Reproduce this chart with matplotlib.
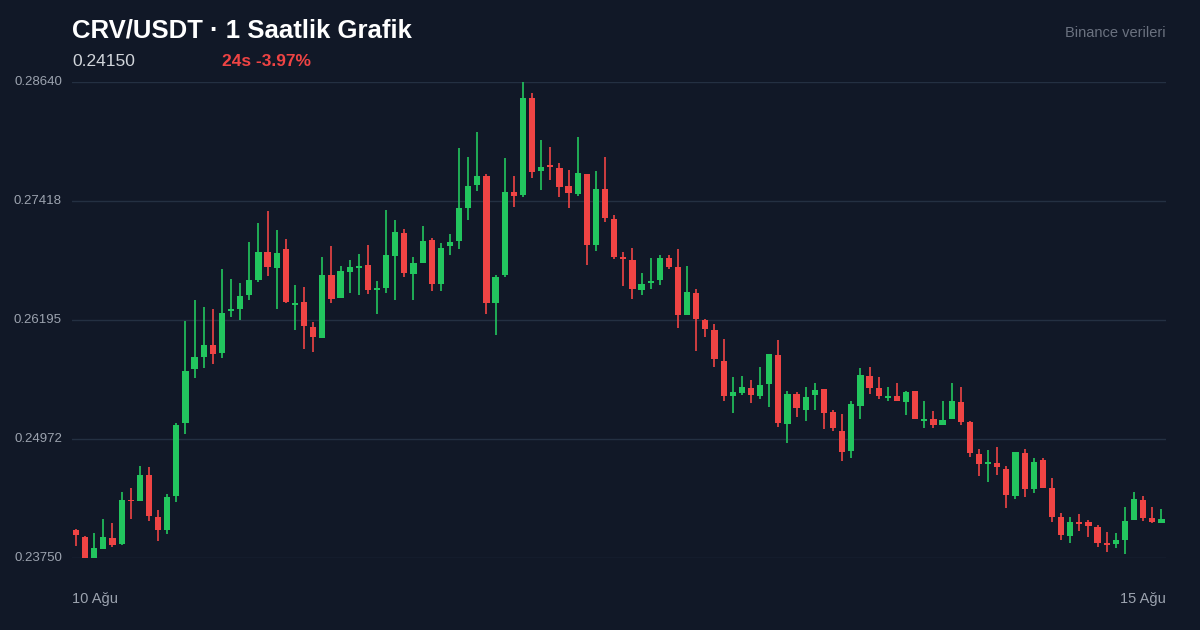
import matplotlib
matplotlib.use("Agg")
import matplotlib.pyplot as plt
import numpy as np

opens = [0.24037,0.23966,0.23751,0.23843,0.23955,0.23894,0.24345,0.24335,0.24602,0.24171,
0.24037,0.24386,0.25137,0.25691,0.25814,0.25938,0.25856,0.26287,0.26307,0.26451,
0.26605,0.26893,0.26729,0.26924,0.26348,0.26379,0.26123,0.26010,0.26657,0.26420,
0.26688,0.26729,0.26760,0.26503,0.26523,0.26852,0.27088,0.26667,0.26780,0.27017,
0.26564,0.26955,0.27006,0.27343,0.27580,0.27672,0.26369,0.26657,0.27508,0.27477,
0.28475,0.27725,0.27787,0.27756,0.27572,0.27490,0.27694,0.26965,0.27541,0.27232,
0.26842,0.26811,0.26503,0.26574,0.26605,0.26832,0.26739,0.26246,0.26472,0.26194,
0.26092,0.25773,0.25414,0.25445,0.25496,0.25414,0.25538,0.25835,0.25127,0.25435,
0.25270,0.25425,0.25486,0.25250,0.25055,0.24849,0.25311,0.25620,0.25496,0.25394,
0.25414,0.25353,0.25466,0.25157,0.25178,0.25116,0.25178,0.25353,0.25147,0.24818,
0.24715,0.24726,0.24664,0.24386,0.24828,0.24458,0.24756,0.24468,0.24171,0.23976,
0.24119,0.24119,0.24068,0.23904,0.23894,0.23935,0.24140,0.24345,0.24160,0.24109]
highs = [0.24047,0.23976,0.24006,0.24150,0.24109,0.24427,0.24468,0.24694,0.24684,0.24242,
0.24407,0.25137,0.26184,0.26400,0.26328,0.26307,0.26718,0.26615,0.26574,0.26996,
0.27191,0.27314,0.27119,0.27027,0.26554,0.26533,0.26174,0.26842,0.26955,0.26749,
0.26811,0.26873,0.26965,0.26595,0.27325,0.27222,0.27130,0.26842,0.27160,0.27037,
0.26986,0.27078,0.27961,0.27869,0.28126,0.27693,0.26657,0.27857,0.27672,0.28640,
0.28527,0.28044,0.27971,0.27807,0.27735,0.28075,0.27694,0.27725,0.27869,0.27273,
0.26893,0.26934,0.26678,0.26832,0.26862,0.26862,0.26924,0.26749,0.26513,0.26205,
0.26153,0.25999,0.25609,0.25620,0.25579,0.25712,0.25845,0.25989,0.25466,0.25455,
0.25507,0.25548,0.25486,0.25270,0.25229,0.25363,0.25702,0.25712,0.25609,0.25507,
0.25548,0.25466,0.25466,0.25363,0.25260,0.25363,0.25548,0.25507,0.25157,0.24869,
0.24859,0.24890,0.24694,0.24839,0.24869,0.24777,0.24777,0.24571,0.24212,0.24171,
0.24201,0.24140,0.24088,0.24017,0.24006,0.24273,0.24427,0.24386,0.24273,0.24253]
lows = [0.23873,0.23751,0.23751,0.23843,0.23863,0.23884,0.24150,0.24335,0.24130,0.23925,
0.23996,0.24325,0.25024,0.25599,0.25702,0.25743,0.25804,0.26225,0.26194,0.26400,
0.26584,0.26646,0.26307,0.26369,0.26092,0.25897,0.25866,0.26010,0.26369,0.26420,
0.26472,0.26451,0.26461,0.26256,0.26472,0.26400,0.26636,0.26400,0.26780,0.26492,
0.26492,0.26862,0.26924,0.27222,0.27518,0.26256,0.26041,0.26636,0.27354,0.27456,
0.27653,0.27529,0.27632,0.27456,0.27346,0.27469,0.26760,0.26903,0.27201,0.26821,
0.26543,0.26410,0.26451,0.26513,0.26554,0.26718,0.26112,0.26246,0.25876,0.26020,
0.25712,0.25363,0.25239,0.25425,0.25342,0.25383,0.25301,0.25096,0.24932,0.25198,
0.25157,0.25270,0.25075,0.25055,0.24746,0.24777,0.25178,0.25435,0.25383,0.25363,
0.25363,0.25219,0.25178,0.25086,0.25086,0.25116,0.25178,0.25116,0.24787,0.24592,
0.24530,0.24602,0.24263,0.24355,0.24376,0.24417,0.24468,0.24119,0.23935,0.23904,
0.24027,0.23966,0.23863,0.23812,0.23853,0.23792,0.24140,0.24130,0.24109,0.24109]
closes = [0.23986,0.23751,0.23853,0.23966,0.23884,0.24345,0.24335,0.24602,0.24181,0.24037,
0.24376,0.25116,0.25671,0.25814,0.25938,0.25845,0.26266,0.26307,0.26441,0.26605,
0.26893,0.26739,0.26883,0.26379,0.26369,0.26133,0.26020,0.26657,0.26410,0.26698,
0.26739,0.26749,0.26503,0.26523,0.26862,0.27099,0.26678,0.26780,0.27006,0.26564,
0.26934,0.26996,0.27343,0.27569,0.27672,0.26369,0.26636,0.27508,0.27467,0.28475,
0.27715,0.27766,0.27766,0.27561,0.27500,0.27705,0.26965,0.27541,0.27242,0.26842,
0.26821,0.26513,0.26564,0.26595,0.26832,0.26739,0.26246,0.26482,0.26205,0.26102,
0.25794,0.25414,0.25455,0.25507,0.25425,0.25527,0.25845,0.25137,0.25435,0.25291,
0.25404,0.25476,0.25239,0.25086,0.24839,0.25332,0.25630,0.25496,0.25414,0.25414,
0.25363,0.25455,0.25178,0.25178,0.25116,0.25168,0.25363,0.25147,0.24828,0.24715,
0.24736,0.24684,0.24396,0.24839,0.24458,0.24736,0.24468,0.24171,0.23986,0.24119,
0.24099,0.24078,0.23904,0.23884,0.23935,0.24130,0.24355,0.24160,0.24119,0.24150]
y_ticks = [0.23750, 0.24972, 0.26195, 0.27418, 0.28640]
x_labels = ["10 Ağu", "15 Ağu"]

BG = "#111827"
GREEN = "#22c55e"
RED = "#ef4444"
plt.rcParams['font.family'] = ['Liberation Sans', 'DejaVu Sans']

fig = plt.figure(figsize=(12, 6.3), dpi=100, facecolor=BG)
ax = fig.add_axes([72/1200, 1-558/630, (1166-72)/1200, (558-82)/630])
ax.set_facecolor(BG)
n = len(opens)
x = np.arange(n)
o = np.array(opens); c = np.array(closes); h = np.array(highs); l = np.array(lows)
colors = [GREEN if cc >= oo else RED for oo, cc in zip(o, c)]
ax.vlines(x, l, h, colors=colors, linewidth=1.2, clip_on=False, zorder=2)
bottom = np.minimum(o, c)
height = np.maximum(np.abs(c - o), 0.00008)
ax.bar(x, height, bottom=bottom, width=0.68, color=colors, clip_on=False, zorder=3)

ax.set_xlim(-0.44, 119.5)
ax.set_ylim(0.2375, 0.2864)
for t in y_ticks:
    ax.axhline(t, color="#243042", linewidth=1, zorder=1)
for s in ax.spines.values():
    s.set_visible(False)
ax.set_xticks([]); ax.set_yticks([])
for t in y_ticks:
    yp = 1 - (82 + (0.2864 - t) / 0.0489 * 476) / 630
    fig.text(62/1200, yp, f"{t:.5f}", color="#9ca3af", fontsize=9.5, ha="right", va="center")

fig.text(72/1200, 1-30/630, "CRV/USDT · 1 Saatlik Grafik", color="white", fontsize=18.5, fontweight="bold", va="center")
fig.text(72/1200, 1-61/630, "0.24150", color="#d1d5db", fontsize=12.5, va="center")
fig.text(222/1200, 1-61/630, "24s -3.97%", color=RED, fontsize=12.5, fontweight="bold", va="center")
fig.text(1166/1200, 1-33/630, "Binance verileri", color="#6b7280", fontsize=10.5, ha="right", va="center")
fig.text(72/1200, 1-599/630, x_labels[0], color="#9ca3af", fontsize=10.5, va="center")
fig.text(1166/1200, 1-599/630, x_labels[1], color="#9ca3af", fontsize=10.5, ha="right", va="center")

fig.savefig("out.png", dpi=100, facecolor=BG)
